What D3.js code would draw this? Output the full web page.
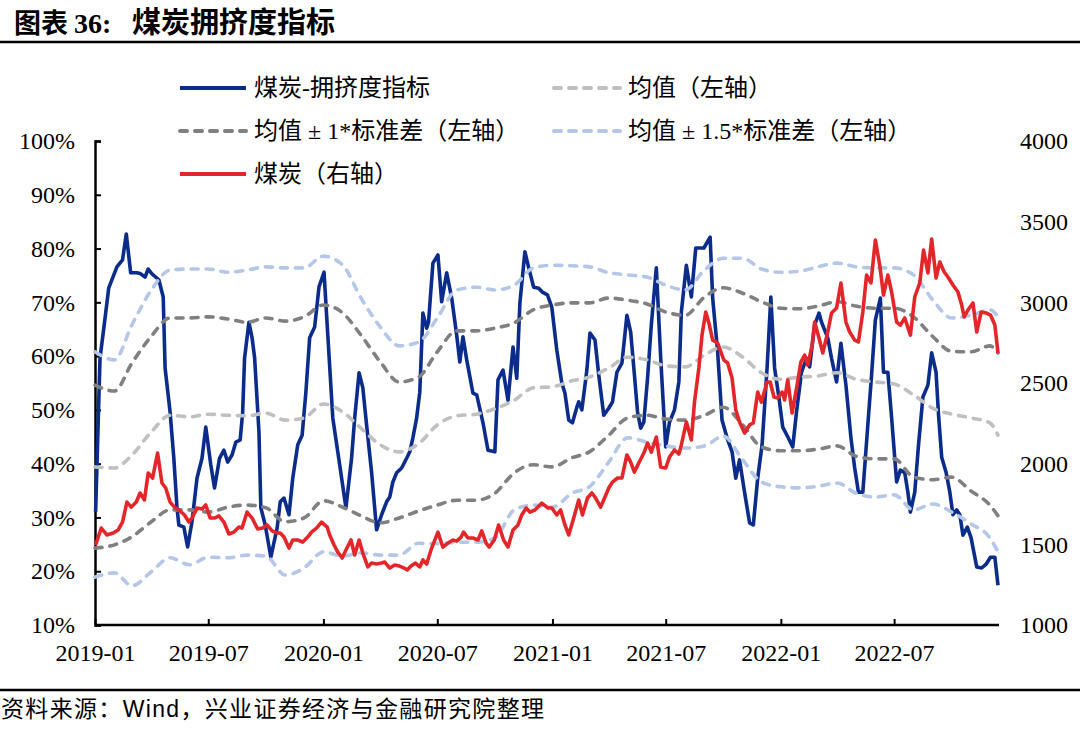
<!DOCTYPE html>
<html><head><meta charset="utf-8">
<script src="https://cdn.jsdelivr.net/npm/d3@7"></script>
<style>body{margin:0;background:#fff;} svg{display:block;}</style>
</head><body>
<svg id="c" width="1080" height="729"></svg>
<script>
// ---------- DATA ----------
const leftTicks = [10,20,30,40,50,60,70,80,90,100];
const rightTicks = [1000,1500,2000,2500,3000,3500,4000];
const xTickDates = ["2019-01-01","2019-07-01","2020-01-01","2020-07-01","2021-01-01","2021-07-01","2022-01-01","2022-07-01"];
const xTickLabels = ["2019-01","2019-07","2020-01","2020-07","2021-01","2021-07","2022-01","2022-07"];

const bandDates = ["2019-01-01","2019-02-01","2019-03-01","2019-04-01","2019-05-01","2019-06-01","2019-07-01","2019-08-01","2019-09-01","2019-10-01","2019-11-01","2019-12-01",
"2020-01-01","2020-02-01","2020-03-01","2020-04-01","2020-05-01","2020-06-01","2020-07-01","2020-08-01","2020-09-01","2020-10-01","2020-11-01","2020-12-01",
"2021-01-01","2021-02-01","2021-03-01","2021-04-01","2021-05-01","2021-06-01","2021-07-01","2021-08-01","2021-09-01","2021-10-01","2021-11-01","2021-12-01",
"2022-01-01","2022-02-01","2022-03-01","2022-04-01","2022-05-01","2022-06-01","2022-07-01","2022-08-01","2022-09-01","2022-10-01","2022-11-01","2022-12-01","2022-12-14"];
const meanVals = [39.4,39.2,41.6,45.9,49.0,48.7,49.2,49.0,48.9,49.4,48.1,48.5,51.1,49.6,46.6,43.5,42.2,43.7,47.2,48.9,49.2,50.2,51.8,54.1,54.3,55.4,56.1,57.8,59.8,59.3,58.2,58.0,60.2,61.7,59.8,56.9,55.7,56.1,56.3,56.9,55.7,55.2,54.8,52.8,50.3,49.2,48.5,47.6,45.3];
const sd1Upper = [54.6,53.5,58.7,63.7,67.1,67.1,67.3,66.9,66.3,67.1,66.5,67.3,69.5,68.0,63.9,58.9,55.2,56.1,60.8,64.7,64.7,65.2,66.2,68.6,69.5,69.9,69.9,70.8,70.4,69.7,68.2,67.6,71.0,72.7,71.7,70.1,68.9,68.8,69.3,70.1,69.3,68.9,68.9,67.3,63.6,60.9,60.8,61.9,60.6];
const sd1Lower = [24.3,24.9,26.4,29.2,31.4,31.4,31.0,31.9,32.3,31.8,29.2,29.9,33.1,31.9,30.3,29.0,29.9,31.2,32.3,33.2,33.2,34.5,38.3,39.8,39.4,41.1,42.2,45.3,48.5,49.0,48.3,48.1,49.0,50.5,47.2,43.1,42.4,42.4,42.7,43.3,41.4,40.9,40.9,37.5,37.0,37.5,34.9,32.3,30.3];
const sd15Upper = [60.8,59.3,65.8,72.3,76.0,76.2,76.2,75.6,76.0,76.6,76.4,76.4,78.6,76.9,70.8,65.4,61.9,62.6,67.1,72.3,72.8,72.3,73.2,76.4,76.9,76.8,76.6,75.5,75.1,74.7,73.2,72.3,76.0,78.2,78.2,76.2,75.6,75.8,76.6,77.3,76.6,76.4,76.4,75.1,70.4,67.1,67.6,68.6,67.3];
const sd15Lower = [18.9,19.7,17.3,19.9,22.5,21.2,22.6,22.5,23.0,22.8,19.3,20.6,23.6,22.8,23.4,23.0,23.0,25.2,25.1,25.4,25.4,26.2,31.4,32.3,31.9,34.5,35.7,40.3,44.8,44.0,43.3,42.9,43.3,45.1,40.7,36.6,35.7,35.5,35.8,36.4,34.5,33.8,34.2,31.4,32.5,31.0,28.8,26.2,23.6];

const crowdDates = ["2019-01-02","2019-01-09","2019-01-17","2019-01-23","2019-02-05","2019-02-14","2019-02-20","2019-02-27","2019-03-09","2019-03-15","2019-03-22","2019-03-27","2019-04-02","2019-04-13","2019-04-20","2019-04-23","2019-05-01","2019-05-07","2019-05-12","2019-05-15","2019-05-23","2019-05-29","2019-06-05","2019-06-13","2019-06-21","2019-06-27","2019-07-05","2019-07-11","2019-07-19","2019-07-26","2019-08-01","2019-08-08","2019-08-14","2019-08-21","2019-08-25","2019-08-28","2019-09-04","2019-09-09","2019-09-13","2019-09-20","2019-09-23","2019-09-30","2019-10-09","2019-10-19","2019-10-24","2019-10-30","2019-11-07","2019-11-13","2019-11-21","2019-11-28","2019-12-04","2019-12-10","2019-12-18","2019-12-25",
"2020-01-02","2020-01-08","2020-01-16","2020-01-27","2020-02-06","2020-02-15","2020-02-20","2020-02-27","2020-03-04","2020-03-10","2020-03-18","2020-03-26","2020-04-03","2020-04-11","2020-04-16","2020-04-21","2020-04-27","2020-05-05","2020-05-13","2020-05-18","2020-05-23","2020-05-29","2020-06-03","2020-06-08","2020-06-14","2020-06-17","2020-06-24","2020-07-02","2020-07-08","2020-07-16","2020-07-24","2020-08-01","2020-08-06","2020-08-11","2020-08-17","2020-08-27","2020-09-02","2020-09-12","2020-09-20","2020-10-01","2020-10-06","2020-10-14","2020-10-22","2020-10-30","2020-11-05","2020-11-10","2020-11-18","2020-11-25","2020-12-02","2020-12-10","2020-12-16","2020-12-24","2020-12-31",
"2021-01-08","2021-01-16","2021-01-21","2021-01-27","2021-02-02","2021-02-09","2021-02-12","2021-02-17","2021-02-25","2021-03-02","2021-03-10","2021-03-16","2021-03-24","2021-04-01","2021-04-07","2021-04-14","2021-04-22","2021-04-30","2021-05-06","2021-05-12","2021-05-17","2021-05-22","2021-05-27","2021-06-02","2021-06-08","2021-06-16","2021-06-23","2021-07-01","2021-07-07","2021-07-15","2021-07-22","2021-07-26","2021-08-03","2021-08-11","2021-08-18","2021-08-31","2021-09-10","2021-09-14","2021-09-22","2021-09-29","2021-10-07","2021-10-15","2021-10-21","2021-10-27","2021-11-04","2021-11-12","2021-11-18","2021-11-25","2021-12-02","2021-12-10","2021-12-16","2021-12-22","2021-12-29",
"2022-01-04","2022-01-12","2022-01-20","2022-01-26","2022-02-03","2022-02-11","2022-02-16","2022-02-24","2022-03-03","2022-03-07","2022-03-17","2022-03-23","2022-03-31","2022-04-07","2022-04-15","2022-04-23","2022-04-29","2022-05-05","2022-05-12","2022-05-20","2022-05-26","2022-06-01","2022-06-09","2022-06-14","2022-06-21","2022-06-27","2022-07-05","2022-07-11","2022-07-18","2022-07-23","2022-07-27","2022-08-03","2022-08-09","2022-08-16","2022-08-24","2022-08-30","2022-09-06","2022-09-10","2022-09-15","2022-09-22","2022-09-28","2022-10-03","2022-10-09","2022-10-14","2022-10-19","2022-10-26","2022-11-01","2022-11-10","2022-11-18","2022-11-25","2022-12-02","2022-12-09","2022-12-14"];
const crowdVals = [31.0,59.6,67.0,72.7,76.6,77.9,82.7,75.5,75.5,75.3,74.7,76.2,75.3,74.2,71.0,57.8,49.6,41.0,31.8,28.6,28.2,24.5,29.2,37.3,41.0,46.8,39.8,35.5,41.0,42.5,40.3,41.6,44.0,44.4,49.6,59.6,66.3,63.4,59.8,45.9,31.8,28.6,22.6,28.0,32.9,33.6,30.5,37.3,43.5,45.3,53.3,63.4,65.4,72.9,
75.6,63.9,48.5,39.8,31.8,41.0,48.5,56.9,54.1,47.2,38.4,27.7,30.5,32.9,33.8,36.6,38.3,39.2,41.0,42.2,44.8,48.5,53.3,68.0,65.2,66.3,77.3,78.8,70.1,75.5,70.8,63.9,58.9,63.6,59.3,53.1,52.8,47.6,42.5,42.2,55.6,57.4,51.8,61.7,55.9,69.9,79.4,76.0,72.8,72.6,71.9,71.4,69.1,
61.1,55.0,53.1,48.1,47.6,50.5,51.5,50.0,57.4,64.3,63.0,56.5,49.0,50.3,51.5,57.0,58.7,67.6,64.5,56.5,49.6,46.6,47.7,55.9,65.8,76.4,59.6,43.1,47.7,50.0,55.2,68.2,76.9,71.0,80.1,80.1,82.1,70.8,60.8,48.1,44.8,42.2,37.3,40.7,34.7,29.0,28.6,37.3,43.5,57.8,71.0,57.8,52.2,
46.8,45.0,43.1,49.6,57.0,59.6,58.0,65.8,68.0,66.3,63.4,59.6,55.2,62.4,54.6,44.8,39.2,34.7,34.7,47.2,56.5,66.7,70.8,57.0,57.0,48.5,36.6,38.8,38.3,34.7,31.0,34.7,43.5,52.4,54.6,60.6,57.0,49.0,41.2,38.4,34.7,30.5,31.4,30.5,26.7,28.2,26.2,20.8,20.6,21.3,22.6,22.6,17.4];

const coalDates = ["2019-01-02","2019-01-11","2019-01-20","2019-01-30","2019-02-07","2019-02-14","2019-02-21","2019-02-28","2019-03-08","2019-03-14","2019-03-21","2019-03-27","2019-04-03","2019-04-11","2019-04-18","2019-04-24","2019-05-01","2019-05-08","2019-05-15","2019-05-24","2019-05-31","2019-06-06","2019-06-13","2019-06-21","2019-06-27","2019-07-04","2019-07-11","2019-07-18","2019-07-26","2019-08-03","2019-08-11","2019-08-19","2019-08-24","2019-09-01","2019-09-09","2019-09-18","2019-09-26","2019-10-03","2019-10-11","2019-10-19","2019-10-24","2019-10-30","2019-11-07","2019-11-13","2019-11-21","2019-11-29","2019-12-07","2019-12-13","2019-12-21","2019-12-29",
"2020-01-07","2020-01-11","2020-01-18","2020-01-24","2020-01-31","2020-02-06","2020-02-14","2020-02-20","2020-02-27","2020-03-04","2020-03-12","2020-03-18","2020-03-26","2020-04-03","2020-04-08","2020-04-16","2020-04-24","2020-05-01","2020-05-09","2020-05-14","2020-05-20","2020-05-27","2020-06-03","2020-06-08","2020-06-14","2020-06-22","2020-07-02","2020-07-10","2020-07-18","2020-07-26","2020-08-01","2020-08-08","2020-08-12","2020-08-19","2020-08-27","2020-09-04","2020-09-10","2020-09-17","2020-09-22","2020-09-30","2020-10-07","2020-10-15","2020-10-22","2020-10-30","2020-11-07","2020-11-13","2020-11-20","2020-11-26","2020-12-04","2020-12-15","2020-12-25","2020-12-31",
"2021-01-08","2021-01-14","2021-01-21","2021-01-27","2021-02-04","2021-02-12","2021-02-18","2021-02-26","2021-03-05","2021-03-11","2021-03-19","2021-03-26","2021-04-01","2021-04-07","2021-04-15","2021-04-22","2021-04-30","2021-05-06","2021-05-12","2021-05-19","2021-05-27","2021-06-02","2021-06-08","2021-06-16","2021-06-23","2021-07-01","2021-07-07","2021-07-15","2021-07-22","2021-07-26","2021-08-03","2021-08-11","2021-08-16","2021-08-23","2021-08-28","2021-09-03","2021-09-08","2021-09-14","2021-09-22","2021-09-29","2021-10-02","2021-10-08","2021-10-15","2021-10-21","2021-10-27","2021-11-04","2021-11-12","2021-11-18","2021-11-25","2021-12-01","2021-12-10","2021-12-15","2021-12-21","2021-12-27",
"2022-01-03","2022-01-07","2022-01-12","2022-01-19","2022-01-27","2022-02-02","2022-02-08","2022-02-13","2022-02-20","2022-02-24","2022-03-03","2022-03-09","2022-03-17","2022-03-23","2022-03-31","2022-04-07","2022-04-15","2022-04-21","2022-04-29","2022-05-05","2022-05-12","2022-05-18","2022-05-25","2022-06-01","2022-06-08","2022-06-14","2022-06-21","2022-06-27","2022-07-05","2022-07-11","2022-07-18","2022-07-27","2022-08-03","2022-08-11","2022-08-17","2022-08-24","2022-08-30","2022-09-06","2022-09-12","2022-09-19","2022-09-25","2022-10-03","2022-10-11","2022-10-17","2022-10-21","2022-10-27","2022-11-04","2022-11-10","2022-11-17","2022-11-25","2022-12-02","2022-12-09","2022-12-14"];
const coalVals = [1496,1601,1558,1570,1589,1638,1762,1731,1762,1818,1775,1942,1911,2066,1880,1849,1762,1731,1713,1682,1638,1669,1725,1719,1744,1663,1663,1676,1638,1564,1576,1607,1601,1700,1663,1595,1601,1620,1583,1570,1570,1545,1477,1527,1527,1514,1545,1576,1601,1638,
1607,1558,1496,1452,1415,1465,1527,1434,1527,1446,1360,1384,1378,1384,1390,1353,1372,1366,1353,1341,1366,1384,1360,1403,1378,1477,1576,1483,1508,1527,1520,1545,1576,1539,1539,1527,1583,1508,1483,1527,1620,1527,1483,1589,1620,1682,1725,1700,1713,1756,1725,1725,
1682,1713,1620,1558,1663,1775,1682,1787,1818,1787,1731,1793,1849,1886,1911,1911,2054,2010,1948,2004,2066,2128,2072,2165,1979,1973,2041,2085,2060,2116,2258,2147,2382,2593,2797,2940,2872,2766,2748,2673,2642,2624,2531,2333,2258,2190,2240,2252,2444,2382,2506,2506,2413,2407,
2444,2395,2519,2314,2488,2630,2673,2611,2735,2878,2779,2686,2816,2934,2965,3120,2878,2816,2766,2754,2940,3169,3120,3386,3231,3045,3169,3064,2878,2859,2903,2797,3033,3120,3324,3182,3392,3151,3250,3188,3157,3107,3064,2983,2909,2952,2996,2816,2940,2934,2921,2859,2686];

const legendItems = [
  {label:"煤炭-拥挤度指标", color:"#0b2c8a", dash:null, col:0, row:0},
  {label:"均值（左轴）", color:"#c0c0c0", dash:"7,8", col:1, row:0},
  {label:"均值 ± 1*标准差（左轴）", color:"#808080", dash:"7,8", col:0, row:1},
  {label:"均值 ± 1.5*标准差（左轴）", color:"#b4c7e7", dash:"7,8", col:1, row:1},
  {label:"煤炭（右轴）", color:"#e3262a", dash:null, col:0, row:2}
];

// ---------- CHART ----------
const svg = d3.select("#c");
const parse = d3.timeParse("%Y-%m-%d");
const X0 = 95, X1 = 999, YT = 141, YB = 625;
const x = d3.scaleTime().domain([parse("2019-01-01"), parse("2022-12-14")]).range([X0, X1 - 1]);
const yL = d3.scaleLinear().domain([10,100]).range([YB, YT]);
const yR = d3.scaleLinear().domain([1000,4000]).range([YB, YT]);

const serif = "'Liberation Serif','Times New Roman','Noto Sans CJK SC',serif";
const cjk = "'Liberation Serif','Noto Sans CJK SC',sans-serif";

// title
const title = svg.append("text").attr("y",33).attr("font-family",cjk).attr("font-weight","bold")
  .attr("font-size",27).attr("fill","#000");
title.append("tspan").attr("x",14).text("图表");
title.append("tspan").attr("x",74).attr("font-size",28).text("36:");
title.append("tspan").attr("x",132).attr("font-size",29).text("煤炭拥挤度指标");
svg.append("line").attr("x1",0).attr("x2",1080).attr("y1",42).attr("y2",42).attr("stroke","#000").attr("stroke-width",2.5);
// footer
svg.append("line").attr("x1",0).attr("x2",1080).attr("y1",690).attr("y2",690).attr("stroke","#000").attr("stroke-width",2.5);
svg.append("text").attr("x",1).attr("y",717).attr("font-family","'Liberation Sans','Noto Sans CJK SC',sans-serif")
  .attr("font-size",23).attr("fill","#000").attr("textLength",543).attr("lengthAdjust","spacing")
  .text("资料来源：Wind，兴业证券经济与金融研究院整理");

// axes
const gL = svg.append("g").attr("transform",`translate(${X0},0)`)
  .call(d3.axisLeft(yL).tickValues(leftTicks).tickSize(-6).tickPadding(20).tickFormat(d=>d+"%"));
const gR = svg.append("g").attr("transform",`translate(${X1},0)`)
  .call(d3.axisRight(yR).tickValues(rightTicks).tickSize(0).tickPadding(21).tickFormat(d3.format("d")));
gR.select(".domain").remove();
const gB = svg.append("g").attr("transform",`translate(0,${YB})`)
  .call(d3.axisBottom(x).tickValues(xTickDates.map(parse)).tickSize(-6).tickPadding(19)
    .tickFormat((d,i)=>xTickLabels[i]));
gB.select(".domain").attr("d",`M${X0},0H${X1}`);
[gL,gR,gB].forEach(g=>{
  g.selectAll("text").attr("font-family",serif).attr("font-size",24).attr("fill","#000");
  g.selectAll("line").attr("stroke","#000").attr("stroke-width",2);
  g.select(".domain").attr("stroke","#000").attr("stroke-width",2.5);
});

// lines
const bandLine = vals => d3.line().curve(d3.curveMonotoneX)
  .x((d,i)=>x(parse(bandDates[i]))).y(d=>yL(d))(vals);
const plot = svg.append("g");

plot.append("path").attr("d", d3.line().x((d,i)=>x(parse(crowdDates[i]))).y(d=>yL(d))(crowdVals))
  .attr("fill","none").attr("stroke","#0b2c8a").attr("stroke-width",3.6).attr("stroke-linejoin","round");

const bands = [
  {vals:meanVals, color:"#c0c0c0"},
  {vals:sd1Upper, color:"#808080"},
  {vals:sd1Lower, color:"#808080"},
  {vals:sd15Upper, color:"#b4c7e7"},
  {vals:sd15Lower, color:"#b4c7e7"}
];
bands.forEach(b=>{
  plot.append("path").attr("d", bandLine(b.vals)).attr("fill","none").attr("stroke",b.color)
    .attr("stroke-width",3.6).attr("stroke-dasharray","7,8").attr("stroke-linecap","round");
});

plot.append("path").attr("d", d3.line().x((d,i)=>x(parse(coalDates[i]))).y(d=>yR(d))(coalVals))
  .attr("fill","none").attr("stroke","#e3262a").attr("stroke-width",3.6).attr("stroke-linejoin","round");

// legend
const lg = svg.append("g");
legendItems.forEach(it=>{
  const lx = it.col===0 ? 178 : 552, ly = 88 + it.row*43;
  lg.append("line").attr("x1",lx+2).attr("x2",lx+68).attr("y1",ly).attr("y2",ly)
    .attr("stroke",it.color).attr("stroke-width",4)
    .attr("stroke-dasharray",it.dash).attr("stroke-linecap",it.dash?"round":"butt");
  lg.append("text").attr("x",lx+76).attr("y",ly+8).attr("font-family",cjk).attr("font-size",24)
    .attr("fill","#000").text(it.label);
});
</script>
</body></html>
